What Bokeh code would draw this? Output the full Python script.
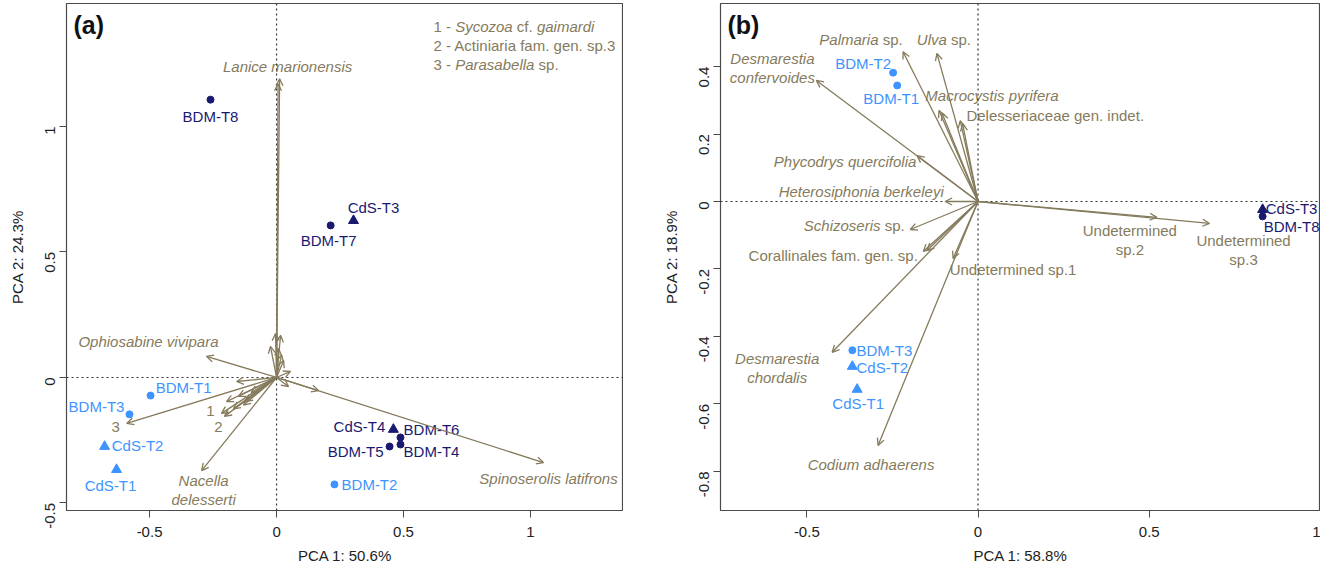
import math
from bokeh.plotting import figure
from bokeh.layouts import row
from bokeh.models import ColumnDataSource, Arrow, OpenHead, Span, FixedTicker, Range1d
from bokeh.core.properties import value
from bokeh.embed import file_html
from bokeh.resources import INLINE

# ---------------- data: panel (a) ----------------
a_sites = ["BDM-T8", "BDM-T7", "CdS-T3", "CdS-T4", "BDM-T6", "BDM-T4", "BDM-T5",
           "BDM-T2", "BDM-T1", "BDM-T3", "CdS-T2", "CdS-T1"]
a_site_x = [-0.26, 0.213, 0.303, 0.46, 0.488, 0.488, 0.445, 0.228, -0.496, -0.579, -0.677, -0.63]
a_site_y = [1.107, 0.606, 0.625, -0.207, -0.239, -0.267, -0.275, -0.426, -0.072, -0.147, -0.275, -0.367]
a_site_group = ["dark", "dark", "dark", "dark", "dark", "dark", "dark",
                "light", "light", "light", "light", "light"]

a_species = ["*Lanice marionensis*", "*Ophiosabine vivipara*", "*Spinoserolis latifrons*",
             "*Nacella*\n*delesserti*", "1", "2", "3"] + [""] * 17
a_sp_x = [0.012, -0.276, 1.051, -0.295, -0.217, -0.205, -0.59,
          -0.024, 0.016, -0.004, 0.008, 0.028, 0.055, 0.047, 0.165, -0.157, -0.197,
          -0.122, -0.15, -0.13, -0.17, -0.1, 0.02, 0.006]
a_sp_y = [1.19, 0.084, -0.339, -0.371, -0.143, -0.155, -0.183,
          0.124, 0.168, 0.175, 0.115, 0.068, 0.024, -0.036, -0.052, -0.016, -0.096,
          -0.096, -0.075, -0.11, -0.125, -0.06, 0.09, 1.17]
a_legend = ["1 - *Sycozoa* cf. *gaimardi*", "2 - Actiniaria fam. gen. sp.3", "3 - *Parasabella* sp."]
a_xticks = [-0.5, 0, 0.5, 1]
a_xtick_labels = ["-0.5", "0", "0.5", "1"]
a_yticks = [-0.5, 0, 0.5, 1]
a_ytick_labels = ["-0.5", "0", "0.5", "1"]
a_xtitle = "PCA 1: 50.6%"
a_ytitle = "PCA 2: 24.3%"

# ---------------- data: panel (b) ----------------
b_sites = ["BDM-T2", "BDM-T1", "CdS-T3", "BDM-T8", "BDM-T3", "CdS-T2", "CdS-T1"]
b_site_x = [-0.248, -0.236, 0.831, 0.831, -0.367, -0.367, -0.353]
b_site_y = [0.382, 0.344, -0.024, -0.044, -0.441, -0.489, -0.557]
b_site_group = ["light", "light", "dark", "dark", "light", "light", "light"]

b_species = ["*Desmarestia*\n*confervoides*", "*Palmaria* sp.", "*Ulva* sp.", "*Macrocystis pyrifera*",
             "Delesseriaceae gen. indet.", "*Phycodrys quercifolia*", "*Heterosiphonia berkeleyi*",
             "*Schizoseris* sp.", "Corallinales fam. gen. sp.", "Undetermined sp.1",
             "Undetermined\nsp.2", "Undetermined\nsp.3", "*Desmarestia*\n*chordalis*",
             "*Codium adhaerens*", "", "", ""]
b_sp_x = [-0.472, -0.219, -0.12, -0.114, -0.052, -0.178, -0.096, -0.198, -0.16, -0.073,
          0.522, 0.676, -0.426, -0.292, -0.149, -0.105, -0.045]
b_sp_y = [0.359, 0.444, 0.439, 0.27, 0.24, 0.136, 0.0, -0.083, -0.148, -0.169,
          -0.047, -0.065, -0.447, -0.723, -0.145, 0.262, 0.23]
b_xticks = [-0.5, 0, 0.5, 1]
b_xtick_labels = ["-0.5", "0", "0.5", "1"]
b_yticks = [-0.8, -0.6, -0.4, -0.2, 0, 0.2, 0.4]
b_ytick_labels = ["-0.8", "-0.6", "-0.4", "-0.2", "0", "0.2", "0.4"]
b_xtitle = "PCA 1: 58.8%"
b_ytitle = "PCA 2: 18.9%"

# ---------------- styles ----------------
OLIVE = "#857b5c"
COLORS = {"light": "#3d94ff", "dark": "#191970"}
FONT = "Liberation Sans"
FS = 15
LH = 19

a_site_off = [(0, 17), (-2, 15), (20, -13), (-34, -3), (31, -8), (31, 7), (-34, 5),
              (35, 0), (33, -8), (-33, -8), (33, -1), (-6, 16)]
a_sp_off = [(8, -12), (-58, -15), (5, 16), (2, 19), (-11, -2), (-6, 11), (-11, 4)] + [(0, 0)] * 17
b_site_off = [(-30, -9), (-6, 13), (29, -1), (29, 10), (32, 0), (30, 1), (1, 14)]
b_sp_off = [(-44, -12), (-42, -12), (7, -14), (53, -15), (95, -5), (-72, 6), (-84, -10),
            (-56, -4), (-90, 4), (60, 11), (-27, 23), (34, 27), (-55, 16), (-7, 19),
            (0, 0), (0, 0), (0, 0)]

W = {' ': 278, '!': 278, '(': 333, ')': 333, '-': 333, '.': 278, ':': 278, '%': 889,
     'A': 667, 'B': 667, 'C': 722, 'D': 722, 'E': 667, 'F': 611, 'G': 778, 'H': 722, 'I': 278,
     'J': 500, 'K': 667, 'L': 556, 'M': 833, 'N': 722, 'O': 778, 'P': 667, 'Q': 778, 'R': 722,
     'S': 667, 'T': 611, 'U': 722, 'V': 667, 'W': 944, 'X': 667, 'Y': 667, 'Z': 611,
     'a': 556, 'b': 556, 'c': 500, 'd': 556, 'e': 556, 'f': 278, 'g': 556, 'h': 556, 'i': 222,
     'j': 222, 'k': 500, 'l': 222, 'm': 833, 'n': 556, 'o': 556, 'p': 556, 'q': 556, 'r': 333,
     's': 500, 't': 278, 'u': 556, 'v': 500, 'w': 722, 'x': 500, 'y': 500, 'z': 500}


def tw(s, fs=FS):
    return sum(W.get(c, 556) for c in s) / 1000.0 * fs


def parse(line):
    parts = line.split("*")
    return [(t, i % 2 == 1) for i, t in enumerate(parts) if t]


class TextCollector:
    def __init__(self):
        self.d = {False: dict(x=[], y=[], xo=[], yo=[], text=[], color=[]),
                  True: dict(x=[], y=[], xo=[], yo=[], text=[], color=[])}

    def add(self, x, y, cx, cy, label, color, align="center"):
        lines = label.split("\n")
        n = len(lines)
        for li, line in enumerate(lines):
            segs = parse(line)
            total = sum(tw(t) for t, _ in segs)
            start = cx - total / 2 if align == "center" else cx
            cur = start
            yo = cy + (li - (n - 1) / 2.0) * LH
            for t, it in segs:
                st = t.strip()
                lead = len(t) - len(t.lstrip())
                xo = cur + tw(t[:lead])
                if st:
                    dd = self.d[it]
                    dd["x"].append(x); dd["y"].append(y)
                    dd["xo"].append(xo); dd["yo"].append(yo)
                    dd["text"].append(st); dd["color"].append(color)
                cur += tw(t)

    def draw(self, p):
        for it, dd in self.d.items():
            if not dd["x"]:
                continue
            p.text(x="x", y="y", text="text", x_offset="xo", y_offset="yo",
                   source=ColumnDataSource(dd), text_align="left", text_baseline="middle",
                   text_font=value(FONT), text_font_size=f"{FS}px",
                   text_font_style="italic" if it else "normal", text_color="color")


def make_panel(tag, xr, yr, fw, left_border, right_border,
               xticks, xlabels, yticks, ylabels, xtitle, ytitle):
    p = figure(x_range=Range1d(*xr), y_range=Range1d(*yr), frame_width=fw, frame_height=507,
               min_border_left=left_border, min_border_right=right_border,
               min_border_top=3, min_border_bottom=52,
               output_backend="svg", toolbar_location=None, tools="")
    p.grid.visible = False
    p.background_fill_color = "white"
    p.border_fill_color = "white"
    p.outline_line_color = "#4a4a4a"
    p.outline_line_width = 1.2
    for ax, ticks, labels, title in ((p.xaxis[0], xticks, xlabels, xtitle),
                                     (p.yaxis[0], yticks, ylabels, ytitle)):
        ax.ticker = FixedTicker(ticks=ticks)
        ax.major_label_overrides = dict(zip([float(t) for t in ticks], labels))
        ax.minor_tick_line_color = None
        ax.major_tick_in = 0
        ax.major_tick_out = 7
        ax.major_tick_line_color = "#4a4a4a"
        ax.axis_line_color = None
        ax.major_label_text_font = FONT
        ax.major_label_text_font_size = "15px"
        ax.major_label_text_color = "#222222"
        ax.axis_label = title
        ax.axis_label_text_font = FONT
        ax.axis_label_text_font_size = "15px"
        ax.axis_label_text_font_style = "normal"
        ax.axis_label_text_color = "#222222"
    p.xaxis[0].major_label_standoff = 9
    p.xaxis[0].axis_label_standoff = 7
    p.yaxis[0].major_label_standoff = 9
    p.yaxis[0].axis_label_standoff = 12
    p.yaxis[0].major_label_orientation = math.pi / 2
    p.add_layout(Span(location=0, dimension="height", line_color="#333333",
                      line_dash="2 3", line_width=1.2))
    p.add_layout(Span(location=0, dimension="width", line_color="#333333",
                      line_dash="2 3", line_width=1.2))
    p.text(x=[xr[0]], y=[yr[1]], text=[tag], x_offset=[7], y_offset=[21],
           text_align="left", text_baseline="middle", text_font=value(FONT),
           text_font_size="25px", text_font_style="bold", text_color="#111111")
    return p


def draw_biplot(p, sites, sx, sy, groups, soff, species, spx, spy, spoff):
    src = ColumnDataSource(dict(x0=[0.0] * len(spx), y0=[0.0] * len(spy), x1=spx, y1=spy))
    p.add_layout(Arrow(x_start="x0", y_start="y0", x_end="x1", y_end="y1", source=src,
                       line_color=OLIVE, line_width=1.3,
                       end=OpenHead(size=7, line_color=OLIVE, line_width=1.3)))
    tc = TextCollector()
    for name, x, y, (dx, dy) in zip(species, spx, spy, spoff):
        if name:
            tc.add(x, y, dx, dy, name, OLIVE)
    for grp in ("light", "dark"):
        for mk, pref, size in (("circle", "BDM", 7), ("triangle", "CdS", 10)):
            xs = [x for s, x, g in zip(sites, sx, groups) if g == grp and s.startswith(pref)]
            ys = [y for s, y, g in zip(sites, sy, groups) if g == grp and s.startswith(pref)]
            if xs:
                p.scatter(xs, ys, marker=mk, size=size, fill_color=COLORS[grp],
                          line_color=COLORS[grp])
    for s, x, y, g, (dx, dy) in zip(sites, sx, sy, groups, soff):
        tc.add(x, y, dx, dy, s, COLORS[g])
    return tc


A_XR = (-0.827, 1.366)
A_YR = (-0.53, 1.49)
B_XR = (-0.752, 1.0)
B_YR = (-0.916, 0.587)

pa = make_panel("(a)", A_XR, A_YR, 557, 66, 0, a_xticks, a_xtick_labels,
                a_yticks, a_ytick_labels, a_xtitle, a_ytitle)
tca = draw_biplot(pa, a_sites, a_site_x, a_site_y, a_site_group, a_site_off,
                  a_species, a_sp_x, a_sp_y, a_sp_off)
for i, line in enumerate(a_legend):
    tca.add(A_XR[1], A_YR[1], -190, 23 + i * 19, line, OLIVE, align="left")
tca.draw(pa)

pb = make_panel("(b)", B_XR, B_YR, 600, 97, 0, b_xticks, b_xtick_labels,
                b_yticks, b_ytick_labels, b_xtitle, b_ytitle)
tcb = draw_biplot(pb, b_sites, b_site_x, b_site_y, b_site_group, b_site_off,
                  b_species, b_sp_x, b_sp_y, b_sp_off)
tcb.draw(pb)

layout = row(pa, pb)
open("out.html", "w").write(file_html(layout, INLINE))
